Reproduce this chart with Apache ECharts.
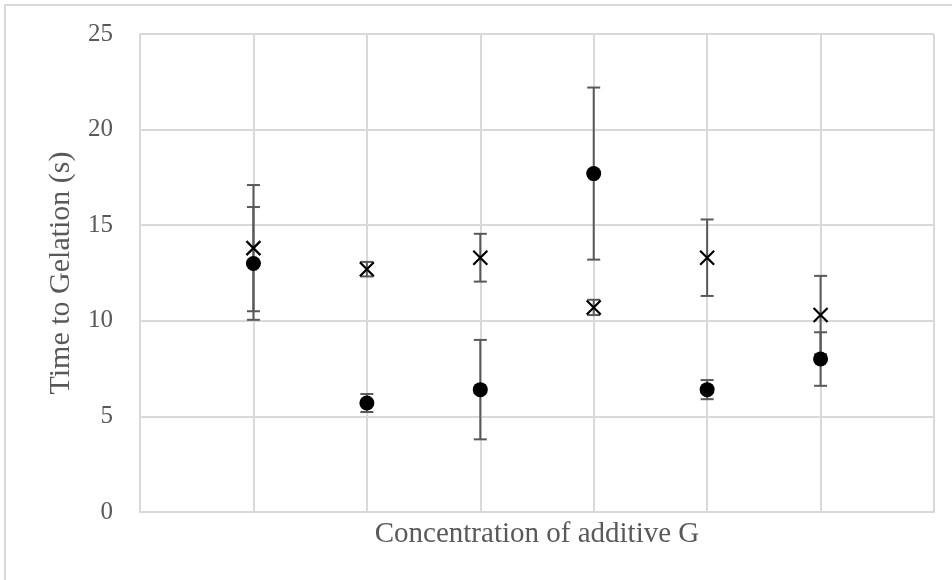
<!DOCTYPE html>
<html>
<head>
<meta charset="utf-8">
<script src="https://cdn.jsdelivr.net/npm/echarts@6/dist/echarts.min.js"></script>
<style>
  html, body { margin: 0; padding: 0; background: #fff; }
  #chart { width: 952px; height: 580px; }
</style>
</head>
<body>
<div id="chart"></div>
<script>
// positions of the six concentrations along the (unlabelled) x axis
const xPositions = [1, 2, 3, 4, 5, 6];

// "x" marker series
const crossMean = [13.8, 12.7, 13.3, 10.7, 13.3, 10.3];
const crossErr = [3.3, 0.38, 1.25, 0.4, 2.0, 2.05];

// filled circle series
const dotMean = [13.0, 5.7, 6.4, 17.7, 6.4, 8.0];
const dotErr = [2.95, 0.47, 2.6, 4.5, 0.5, 1.4];

const yTicks = [0, 5, 10, 15, 20, 25];

const serif = "'Liberation Serif', 'Times New Roman', serif";
const textColor = '#595959';
const gridColor = '#d9d9d9';

function errorData(mean, err) {
  return xPositions.map((x, i) => [x, mean[i] - err[i], mean[i] + err[i]]);
}

function renderErrorBar(params, api) {
  const x = api.value(0);
  const top = api.coord([x, api.value(2)]);
  const bottom = api.coord([x, api.value(1)]);
  const half = 6.5;
  const style = { stroke: '#595959', lineWidth: 2 };
  return {
    type: 'group',
    children: [
      { type: 'line', shape: { x1: top[0], y1: top[1], x2: bottom[0], y2: bottom[1] }, style: style },
      { type: 'line', shape: { x1: top[0] - half, y1: top[1], x2: top[0] + half, y2: top[1] }, style: style },
      { type: 'line', shape: { x1: bottom[0] - half, y1: bottom[1], x2: bottom[0] + half, y2: bottom[1] }, style: style }
    ]
  };
}

const chart = echarts.init(document.getElementById('chart'));
chart.setOption({
  animation: false,
  graphic: [{
    type: 'rect',
    shape: { x: 5, y: 5, width: 1200, height: 1200 },
    style: { fill: 'none', stroke: gridColor, lineWidth: 2 },
    silent: true
  }],
  grid: { left: 140, top: 34, right: 18, bottom: 68 },
  xAxis: {
    type: 'value',
    min: 0,
    max: 7,
    interval: 1,
    name: 'Concentration of additive G',
    nameLocation: 'middle',
    nameGap: 8,
    nameTextStyle: { fontFamily: serif, fontSize: 29, color: textColor },
    axisLine: { show: true, lineStyle: { color: gridColor, width: 2 } },
    axisTick: { show: false },
    axisLabel: { show: false },
    splitLine: { show: true, lineStyle: { color: gridColor, width: 2 } }
  },
  yAxis: {
    type: 'value',
    min: yTicks[0],
    max: yTicks[yTicks.length - 1],
    interval: 5,
    name: 'Time to Gelation (s)',
    nameLocation: 'middle',
    nameGap: 64,
    nameTextStyle: { fontFamily: serif, fontSize: 30, color: textColor },
    axisLine: { show: true, lineStyle: { color: gridColor, width: 2 } },
    axisTick: { show: false },
    axisLabel: { fontFamily: serif, fontSize: 25, color: textColor, margin: 27 },
    splitLine: { show: true, lineStyle: { color: gridColor, width: 2 } }
  },
  series: [
    {
      type: 'custom',
      renderItem: renderErrorBar,
      data: errorData(crossMean, crossErr),
      encode: { x: 0, y: [1, 2] },
      z: 2
    },
    {
      type: 'custom',
      renderItem: renderErrorBar,
      data: errorData(dotMean, dotErr),
      encode: { x: 0, y: [1, 2] },
      z: 2
    },
    {
      type: 'scatter',
      data: xPositions.map((x, i) => [x, dotMean[i]]),
      symbol: 'circle',
      symbolSize: 15,
      itemStyle: { color: '#000', opacity: 1 },
      z: 3
    },
    {
      type: 'scatter',
      data: xPositions.map((x, i) => [x, crossMean[i]]),
      symbol: 'path://M0,0L10,10M10,0L0,10',
      symbolSize: 14,
      itemStyle: { color: 'none', borderColor: '#000', borderWidth: 2.2, opacity: 1 },
      z: 4
    }
  ]
});
</script>
</body>
</html>
